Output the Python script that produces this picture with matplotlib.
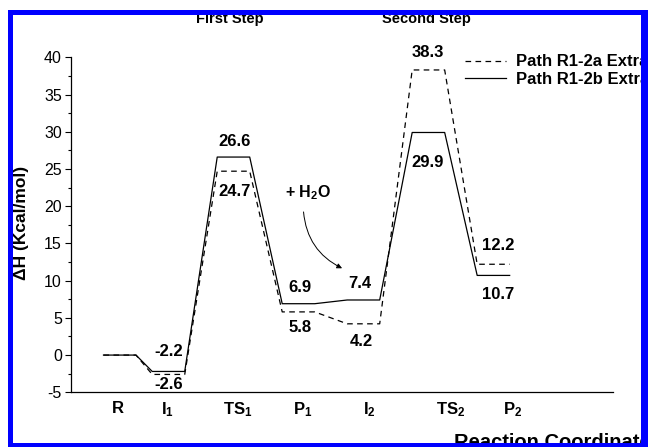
import matplotlib
matplotlib.use("Agg")
import matplotlib.pyplot as plt
from matplotlib.patches import Rectangle, FancyArrowPatch
from matplotlib.ticker import MultipleLocator

plt.rcParams['font.family'] = ['Liberation Sans', 'DejaVu Sans']
plt.rcParams['mathtext.fontset'] = 'custom'
plt.rcParams['mathtext.rm'] = 'Liberation Sans'
plt.rcParams['mathtext.bf'] = 'Liberation Sans:bold'
plt.rcParams['mathtext.it'] = 'Liberation Sans:italic'
plt.rcParams['axes.unicode_minus'] = False

# ---- data ----
state_labels = ['R', r'$\mathbf{I_1}$', r'$\mathbf{TS_1}$', r'$\mathbf{P_1}$',
                r'$\mathbf{I_2}$', r'$\mathbf{TS_2}$', r'$\mathbf{P_2}$']
state_pos = [1.5, 3.0, 5.0, 7.0, 9.0, 11.0, 13.0]
label_pos = [1.45, 2.98, 5.12, 7.12, 9.17, 11.7, 13.6]
path_a = [0.0, -2.6, 24.7, 5.8, 4.2, 38.3, 12.2]   # dashed
path_b = [0.0, -2.2, 26.6, 6.9, 7.4, 29.9, 10.7]   # solid
name_a = 'Path R1-2a Extra'
name_b = 'Path R1-2b Extra'

# label positions (layout)
lab_a = [None, (3.02, -4.0), (5.02, 22.0), (7.05, 3.75), (8.94, 1.8), (10.97, 40.6), (13.15, 14.7)]
lab_b = [None, (3.02, 0.45), (5.02, 28.7), (7.05, 9.1), (8.9, 9.65), (10.97, 25.9), (13.15, 8.2)]

half = 0.5

def profile(pos, vals):
    xs, ys = [], []
    for p, v in zip(pos, vals):
        xs += [p - half, p + half]
        ys += [v, v]
    return xs, ys

W, H = 648, 447
fig = plt.figure(figsize=(W / 100, H / 100), dpi=100)
ax = fig.add_axes([71 / W, 1 - 392.3 / H, (613 - 71) / W, (392.3 - 57.3) / H])

xa, ya = profile(state_pos, path_a)
xb, yb = profile(state_pos, path_b)
ax.plot(xa, ya, color='black', lw=0.9, dashes=(4.5, 3.5), label=name_a)
ax.plot(xb, yb, color='black', lw=0.9, label=name_b)

ax.set_xlim(0, 16.68)
ax.set_ylim(-5, 40)
ax.yaxis.set_major_locator(MultipleLocator(5))
ax.yaxis.set_minor_locator(MultipleLocator(2.5))
ax.tick_params(axis='y', which='major', direction='out', length=4.5, width=0.8, labelsize=11.5, pad=2)
ax.tick_params(axis='y', which='minor', direction='out', length=2.3, width=0.8)
ax.set_xticks(label_pos)
ax.set_xticklabels(state_labels, fontsize=12, fontweight='bold')
ax.tick_params(axis='x', length=0, pad=6)
for s in ['top', 'right']:
    ax.spines[s].set_visible(False)
for s in ['left', 'bottom']:
    ax.spines[s].set_linewidth(0.9)

for v, p in zip(path_a, lab_a):
    if p is not None:
        ax.text(p[0], p[1], f'{v:.1f}', ha='center', va='center', fontsize=12, fontweight='bold')
for v, p in zip(path_b, lab_b):
    if p is not None:
        ax.text(p[0], p[1], f'{v:.1f}', ha='center', va='center', fontsize=12, fontweight='bold')

ax.text(7.29, 21.8, r'$\mathbf{+\ H_2O}$', ha='center', va='center', fontsize=11.5)
arr = FancyArrowPatch((7.15, 19.6), (8.42, 11.5), connectionstyle='arc3,rad=0.3',
                      arrowstyle='-|>,head_length=3,head_width=1.5', color='black', lw=0.7)
ax.add_patch(arr)

ax.legend(loc='upper left', bbox_to_anchor=(465 / W, 1 - 54.5 / H), bbox_transform=fig.transFigure,
          frameon=False, borderpad=0, borderaxespad=0, handlelength=2.45, handletextpad=0.6,
          labelspacing=0.17, prop={'weight': 'bold', 'size': 12})

fig.text(22 / W, 1 - 223 / H, 'ΔH (Kcal/mol)', rotation=90, ha='center', va='center',
         fontsize=12.5, fontweight='bold')
fig.text(230 / W, 1 - 19 / H, 'First Step', ha='center', va='center', fontsize=10.5, fontweight='bold')
fig.text(426 / W, 1 - 19 / H, 'Second Step', ha='center', va='center', fontsize=10.5, fontweight='bold')
fig.text(454 / W, 1 - 448 / H, 'Reaction Coordinate', ha='left', va='baseline', fontsize=14.5, fontweight='bold')

# blue frame
blue = '#0000ff'
for (x0, y0, x1, y1) in [(7.5, 9.5, 13, 447), (7.5, 9.5, 648, 15), (641, 9.5, 648, 447), (7.5, 442.5, 648, 447)]:
    fig.add_artist(Rectangle((x0 / W, 1 - y1 / H), (x1 - x0) / W, (y1 - y0) / H,
                             transform=fig.transFigure, facecolor=blue, edgecolor='none', zorder=20))

fig.savefig('out.png', dpi=100)
